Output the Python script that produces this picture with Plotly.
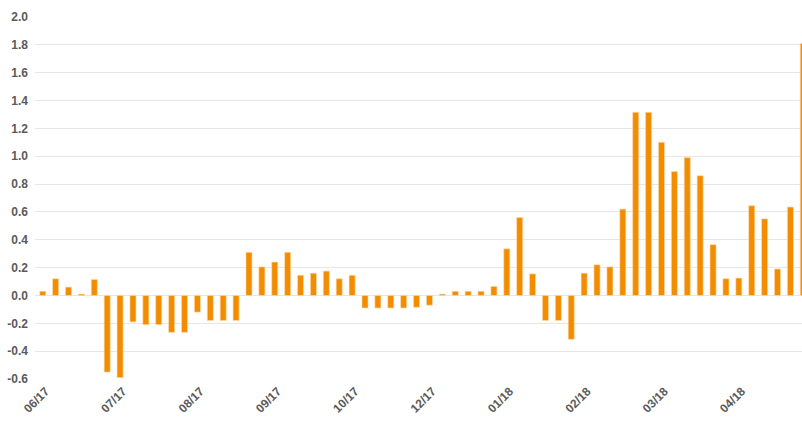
import plotly.graph_objects as go

values = [0.03, 0.12, 0.06, 0.01, 0.115, -0.55, -0.59, -0.19, -0.21, -0.21,
          -0.265, -0.265, -0.12, -0.18, -0.18, -0.18, 0.31, 0.205, 0.24, 0.31,
          0.145, 0.16, 0.175, 0.12, 0.145, -0.09, -0.09, -0.09, -0.09, -0.085,
          -0.07, 0.01, 0.03, 0.03, 0.03, 0.065, 0.335, 0.56, 0.155, -0.18,
          -0.18, -0.315, 0.16, 0.22, 0.205, 0.62, 1.315, 1.315, 1.10, 0.89,
          0.99, 0.86, 0.365, 0.12, 0.125, 0.645, 0.55, 0.19, 0.635, 1.81]
weeks = list(range(len(values)))
tick_positions = [0, 6, 12, 18, 24, 30, 36, 42, 48, 54]
tick_labels = ["06/17", "07/17", "08/17", "09/17", "10/17", "12/17",
               "01/18", "02/18", "03/18", "04/18"]
y_ticks = [-0.6, -0.4, -0.2, 0.0, 0.2, 0.4, 0.6, 0.8, 1.0, 1.2, 1.4, 1.6, 1.8, 2.0]

fig = go.Figure(go.Bar(
    x=weeks, y=values,
    width=0.47,
    marker=dict(color="#F28C00", line=dict(color="rgba(255,220,170,0.9)", width=0.7)),
    hoverinfo="x+y",
))

font = dict(family="Liberation Sans, Arial, sans-serif", size=12, color="#5a5a5a", weight="bold")

fig.update_layout(
    width=802, height=426,
    margin=dict(l=35, r=0, t=17, b=47),
    paper_bgcolor="white", plot_bgcolor="white",
    showlegend=False,
    xaxis=dict(
        range=[-0.6, 58.9], automargin=False,
        tickmode="array", tickvals=tick_positions, ticktext=tick_labels,
        tickangle=-45, tickfont=font, ticklabelshift=3, ticklabelstandoff=2,
        showgrid=False, zeroline=False, showline=False, ticks="",
    ),
    yaxis=dict(
        range=[-0.6, 2.0], automargin=False,
        tickmode="array", tickvals=y_ticks,
        ticktext=[f"{v:.1f}" for v in y_ticks],
        tickfont=font, ticklabelstandoff=6,
        showgrid=True, gridcolor="#e6e6e6", gridwidth=1,
        zeroline=True, zerolinecolor="#e6e6e6", zerolinewidth=1,
        showline=False, ticks="",
    ),
)

fig.write_html(
    "out.html",
    config={"displayModeBar": False},
    post_script="document.body.style.margin='0';document.body.style.overflow='hidden';",
)
